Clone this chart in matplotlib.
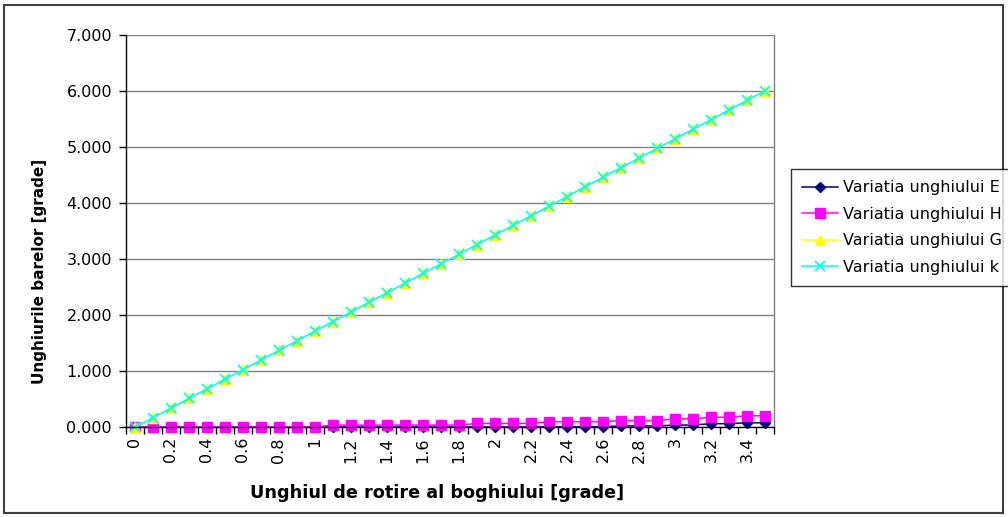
import matplotlib
matplotlib.use("Agg")
import matplotlib.pyplot as plt
from matplotlib.patches import Rectangle
import numpy as np

# Bogie rotation angle categories [degrees]
angles = [0.0, 0.1, 0.2, 0.3, 0.4, 0.5, 0.6, 0.7, 0.8, 0.9,
          1.0, 1.1, 1.2, 1.3, 1.4, 1.5, 1.6, 1.7, 1.8, 1.9,
          2.0, 2.1, 2.2, 2.3, 2.4, 2.5, 2.6, 2.7, 2.8, 2.9,
          3.0, 3.1, 3.2, 3.3, 3.4, 3.5]

# Bar angle variations [degrees]
var_E = [0.0, 0.0, 0.0, 0.0, 0.0, 0.0, 0.0, 0.0, 0.0, 0.0,
         0.0, 0.005, 0.005, 0.005, 0.005, 0.005, 0.005, 0.005, 0.005, 0.005,
         0.005, 0.005, 0.005, 0.01, 0.01, 0.01, 0.01, 0.025, 0.025, 0.025,
         0.04, 0.04, 0.065, 0.065, 0.08, 0.08]
var_H = [0.005, 0.005, 0.005, 0.005, 0.005, 0.005, 0.005, 0.005, 0.005, 0.005,
         0.005, 0.04, 0.04, 0.04, 0.04, 0.04, 0.04, 0.04, 0.04, 0.07,
         0.07, 0.07, 0.07, 0.10, 0.10, 0.10, 0.10, 0.12, 0.12, 0.12,
         0.15, 0.15, 0.18, 0.18, 0.205, 0.205]
var_G = [0.0, 0.171, 0.343, 0.514, 0.686, 0.857, 1.029, 1.2, 1.371, 1.543,
         1.714, 1.886, 2.057, 2.229, 2.4, 2.571, 2.743, 2.914, 3.086, 3.257,
         3.429, 3.6, 3.771, 3.943, 4.114, 4.286, 4.457, 4.629, 4.8, 4.971,
         5.143, 5.314, 5.486, 5.657, 5.829, 6.0]
var_k = [0.0, 0.171, 0.343, 0.514, 0.686, 0.857, 1.029, 1.2, 1.371, 1.543,
         1.714, 1.886, 2.057, 2.229, 2.4, 2.571, 2.743, 2.914, 3.086, 3.257,
         3.429, 3.6, 3.771, 3.943, 4.114, 4.286, 4.457, 4.629, 4.8, 4.971,
         5.143, 5.314, 5.486, 5.657, 5.829, 6.0]

series_names = ["Variatia unghiului E", "Variatia unghiului H",
                "Variatia unghiului G", "Variatia unghiului k"]
y_ticks = [0, 1, 2, 3, 4, 5, 6, 7]

plt.rcParams['font.family'] = ['DejaVu Sans']
FS = 11.5

W, H = 1008, 517
fig = plt.figure(figsize=(W / 100, H / 100), dpi=100)
fig.patch.set_facecolor("white")

# plot area in pixel coordinates
left, right, top, bottom = 126, 774, 34.7, 427.3
ax = fig.add_axes([left / W, 1 - bottom / H, (right - left) / W, (bottom - top) / H])

x = np.arange(len(angles))
styles = [
    dict(color="#000080", marker="D", markersize=5.2),
    dict(color="#FF00FF", marker="s", markersize=6.5),
    dict(color="#FFFF00", marker="^", markersize=7.5),
    dict(color="#00FFFF", marker="x", markersize=7, markeredgewidth=1.3),
]
for vals, name, st in zip([var_E, var_H, var_G, var_k], series_names, styles):
    ax.plot(x, vals, linewidth=1.1, label=name, clip_on=False, **st)

ax.set_xlim(-0.5, len(angles) - 0.5)
ax.set_ylim(0, 7)

# y axis
ax.set_yticks(y_ticks)
ax.set_yticklabels([f"{v:.3f}" for v in y_ticks], fontsize=FS)
ax.yaxis.grid(True, color="#808080", linewidth=1.0)
ax.set_axisbelow(True)
ax.tick_params(axis="y", direction="out", length=5, width=1, pad=5, color="black")

# x axis: tick marks between categories, labels on every other category
ax.set_xticks(np.arange(-0.5, len(angles), 1.0))
ax.set_xticklabels([])
ax.tick_params(axis="x", which="major", direction="out", length=5, width=1, color="black")
ax.set_xticks(x[::2], minor=True)
ax.set_xticklabels([f"{v:g}" for v in angles[::2]], minor=True,
                   rotation=90, fontsize=FS, va="top", ha="center")
ax.tick_params(axis="x", which="minor", length=0, pad=7)

for side in ("left", "bottom"):
    ax.spines[side].set_color("black")
    ax.spines[side].set_linewidth(1.0)
ax.spines["top"].set_visible(False)
ax.spines["right"].set_color("#808080")
ax.spines["right"].set_linewidth(1.0)

fig.text(437 / W, 1 - 493 / H, "Unghiul de rotire al boghiului [grade]",
         ha="center", va="center", fontsize=12.7, fontweight="bold")
fig.text(40 / W, 1 - 271 / H, "Unghiurile barelor [grade]", rotation=90,
         ha="center", va="center", fontsize=11, fontweight="bold")

leg = fig.legend(loc="upper left", bbox_to_anchor=(791 / W, 1 - 169 / H),
                 bbox_transform=fig.transFigure, fontsize=FS, frameon=True,
                 fancybox=False, borderaxespad=0, borderpad=0.7,
                 handlelength=2.25, handletextpad=0.3, labelspacing=0.72)
leg.get_frame().set_edgecolor("black")
leg.get_frame().set_linewidth(1.0)

# outer chart border
fig.patches.append(Rectangle((4 / W, 4 / H), (W - 9) / W, (H - 9) / H,
                             transform=fig.transFigure, fill=False,
                             edgecolor="#404040", linewidth=1.5))

fig.savefig("out.png", dpi=100)
